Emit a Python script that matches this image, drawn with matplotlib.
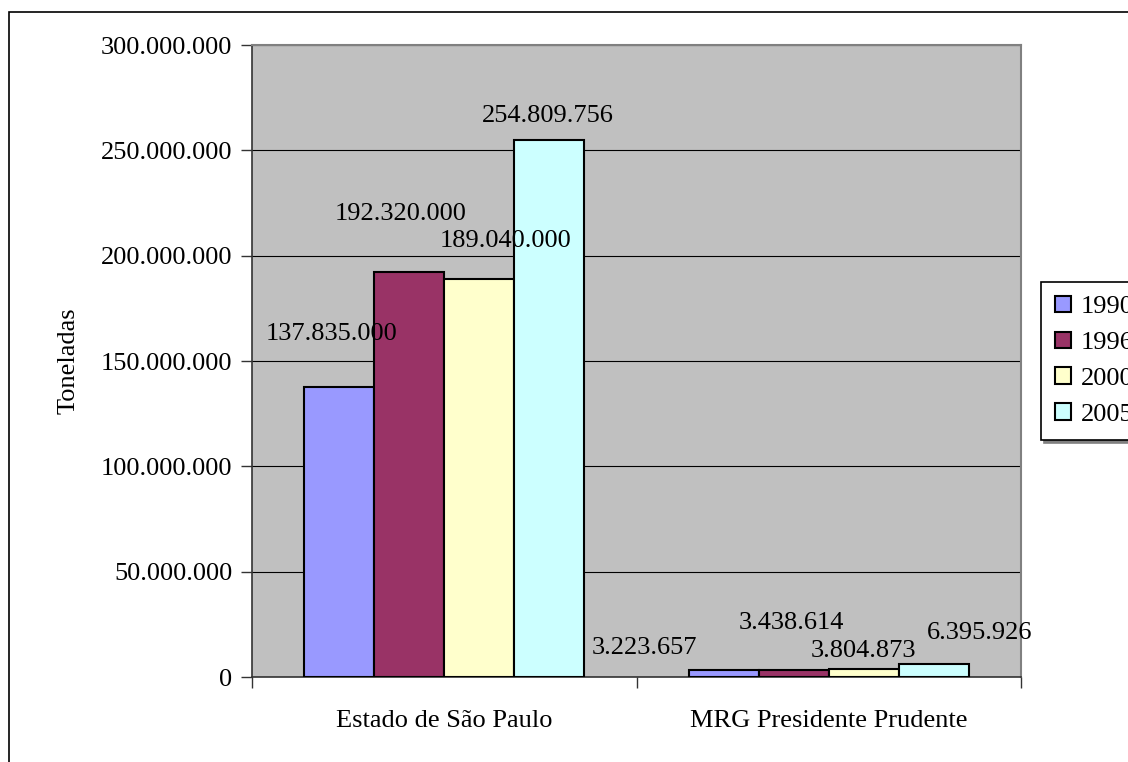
import matplotlib
matplotlib.use('Agg')

import matplotlib.pyplot as plt
import matplotlib.ticker as mt
from matplotlib.patches import Rectangle
import numpy as np

# data
categories = ['Estado de São Paulo', 'MRG Presidente Prudente']
years = ['1990', '1996', '2000', '2005']
values = {
    '1990': [137835000, 3223657],
    '1996': [192320000, 3438614],
    '2000': [189040000, 3804873],
    '2005': [254809756, 6395926],
}
colors = ['#9999FF', '#993366', '#FFFFCC', '#CCFFFF']
yticks = [0, 50000000, 100000000, 150000000, 200000000, 250000000, 300000000]

# label centre offsets in points (x, y) from bar top centre, as Excel placed them
label_offsets = {
    '1990': [(-6, 38), (-57, 16)],
    '1996': [(-6, 42), (-2, 34)],
    '2000': [(19, 27), (0, 13)],
    '2005': [(-1, 17.5), (33, 22)],
}


def fmt(v, pos=None):
    return '{:,.0f}'.format(v).replace(',', '.')


plt.rcParams['font.family'] = ['Liberation Serif', 'DejaVu Serif']
fs = 19

fig = plt.figure(figsize=(11.28, 7.62), dpi=100)
fig.patches.append(Rectangle((9 / 1128, -0.1), 1.2, 1.1 - 12 / 762,
                             transform=fig.transFigure, fill=False,
                             edgecolor='black', linewidth=1.2))

ax = fig.add_axes([252 / 1128, 1 - 677 / 762, 769 / 1128, 632 / 762])
ax.set_facecolor('#C0C0C0')

w = 1 / 5.5
x = np.arange(len(categories))
handles = []
for i, yr in enumerate(years):
    xs = x + (i - 1.5) * w
    b = ax.bar(xs, values[yr], width=w, color=colors[i], edgecolor='black',
               linewidth=1.5, label=yr, zorder=3)
    handles.append(b)
    for xv, v, off in zip(xs, values[yr], label_offsets[yr]):
        ax.annotate(fmt(v), (xv, v), xytext=off, textcoords='offset points',
                    ha='center', va='center', fontsize=fs, zorder=4)

ax.set_xlim(-0.5, 1.5)
ax.set_ylim(0, 300000000)
ax.set_yticks(yticks)
ax.yaxis.set_major_formatter(mt.FuncFormatter(fmt))
ax.yaxis.grid(True, color='black', linewidth=0.8, zorder=0)
ax.set_axisbelow(True)

ax.set_xticks([-0.5, 0.5, 1.5])
ax.set_xticklabels(['', '', ''])
ax.set_xticks(x, minor=True)
ax.set_xticklabels(categories, minor=True)
ax.tick_params(axis='x', which='minor', length=0, pad=23.5, labelsize=fs)
ax.tick_params(axis='x', which='major', length=8, width=1, color='#333333')
ax.tick_params(axis='y', length=8, width=1, color='#333333', labelsize=fs, pad=6)

for s in ['top', 'right']:
    ax.spines[s].set_color('#808080')
    ax.spines[s].set_linewidth(1.5)
for s in ['left', 'bottom']:
    ax.spines[s].set_color('#333333')
    ax.spines[s].set_linewidth(1.2)

ax.set_ylabel('Toneladas', fontsize=fs)
ax.yaxis.set_label_coords(-0.224, 0.5)

leg = fig.legend(handles=handles, labels=years, loc='upper left',
                 bbox_to_anchor=(1041 / 1128, 1 - 282 / 762), borderaxespad=0,
                 frameon=True, fancybox=False, edgecolor='black',
                 shadow={'color': '#808080', 'alpha': 1.0},
                 fontsize=fs, handlelength=0.6, handleheight=0.6,
                 handletextpad=0.38, labelspacing=0.5, borderpad=0.52)
leg.get_frame().set_linewidth(1.2)

plt.savefig('out.png', dpi=100)
